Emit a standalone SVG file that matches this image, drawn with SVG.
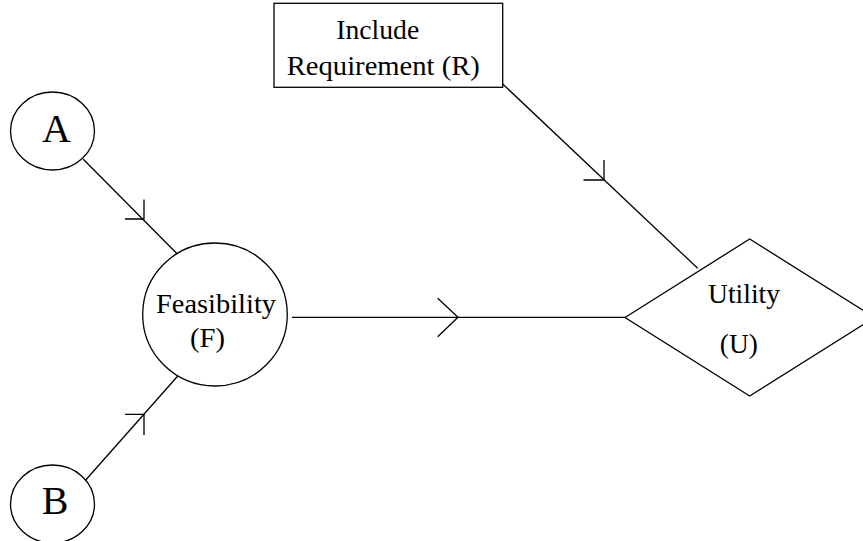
<svg xmlns="http://www.w3.org/2000/svg" width="863" height="541" viewBox="0 0 863 541">
<style>
.s{fill:none;stroke:#000;stroke-width:1.3}
.n{fill:#fff;stroke:#000;stroke-width:1.3}
text{font-family:"Liberation Serif","Times New Roman",serif;fill:#000;text-anchor:middle}
.t{font-size:28px}
.big{font-size:40px}
</style>
<rect width="863" height="541" fill="#fff"/>
<g id="connectors">
<line class="s" x1="83.3" y1="159.3" x2="177.3" y2="254"/>
<polyline class="s" points="125,219 144,219 144,199.5"/>
<line class="s" x1="83.3" y1="482.7" x2="178" y2="375.7"/>
<polyline class="s" points="125,414.3 144,414.3 144,435"/>
<line class="s" x1="292" y1="317.3" x2="625" y2="317.3"/>
<polyline class="s" points="437.7,298.3 458,317.3 437.7,336.7"/>
<line class="s" x1="502.7" y1="84" x2="697.7" y2="268.3"/>
<polyline class="s" points="583.5,180 604,180 604,160"/>
</g>
<g id="nodeA">
<ellipse class="n" cx="52.5" cy="131" rx="42" ry="39"/>
<text class="big" x="56.5" y="142">A</text>
</g>
<g id="nodeB">
<ellipse class="n" cx="52.5" cy="504" rx="42" ry="39"/>
<text class="big" x="55" y="514">B</text>
</g>
<g id="nodeF">
<ellipse class="n" cx="215" cy="314.5" rx="72.3" ry="71.5"/>
<text class="t" x="216" y="313" textLength="120" lengthAdjust="spacingAndGlyphs">Feasibility</text>
<text class="t" x="207.5" y="347" textLength="35" lengthAdjust="spacingAndGlyphs">(F)</text>
</g>
<g id="nodeR">
<rect class="n" x="274" y="3.3" width="228.7" height="84"/>
<text class="t" x="377.7" y="39.3" textLength="83" lengthAdjust="spacingAndGlyphs">Include</text>
<text class="t" x="383.3" y="75.3" textLength="193" lengthAdjust="spacingAndGlyphs">Requirement (R)</text>
</g>
<g id="nodeU">
<polygon class="n" points="625,317.5 749.7,239 874.4,317.5 749.7,396"/>
<text class="t" x="744" y="303.3" textLength="72" lengthAdjust="spacingAndGlyphs">Utility</text>
<text class="t" x="738.8" y="353.3" textLength="38" lengthAdjust="spacingAndGlyphs">(U)</text>
</g>
</svg>
